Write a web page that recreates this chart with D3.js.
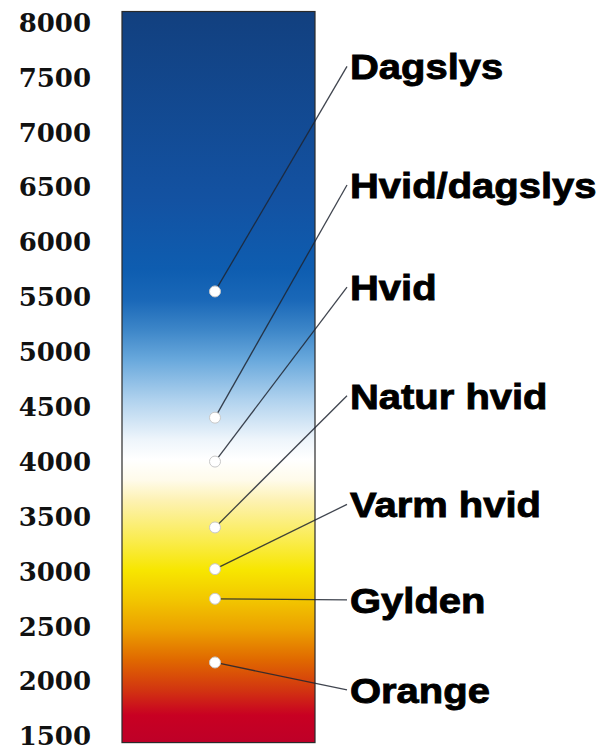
<!DOCTYPE html>
<html>
  <head>
    <meta charset="utf-8">
    <title>Farvetemperatur</title>
    <style type="text/css">
     html, body {
       margin: 0;
       background: #fff;
     }
     .axis text {
       font: bold 26px "DejaVu Serif", serif;
       fill: #111;
     }
     .labels text {
       font: bold 36px "Liberation Sans", Arial, sans-serif;
       fill: #000;
       stroke: #000;
       stroke-width: 0.9px;
     }
     .leaders line {
       stroke: #1e2430;
       stroke-width: 1.3px;
       stroke-opacity: 0.85;
     }
     .dots circle {
       fill: #fff;
       stroke: #c8c8c8;
       stroke-width: 1px;
     }
    </style>
  </head>
  <body>
    <svg width="600" height="750"></svg>
    <script src="https://cdn.jsdelivr.net/npm/d3@7"></script>
    <script>
     // tick labels (Kelvin)
     var ticks = [1500, 2000, 2500, 3000, 3500, 4000, 4500, 5000, 5500, 6000, 6500, 7000, 7500, 8000];

     // light types, their temperature and where the label sits (also in Kelvin)
     var names = ["Dagslys", "Hvid/dagslys", "Hvid", "Natur hvid", "Varm hvid", "Gylden", "Orange"];
     var kelvin = [5550, 4400, 4000, 3400, 3020, 2750, 2170];
     var labelAt = [7600, 6520, 5590, 4600, 3610, 2740, 1920];

     // colour of the bar at a given temperature
     var stopK = [8100, 6380, 5750, 5470, 5200, 4930, 4560, 4200, 4020, 3830, 3650, 3290, 3010, 2740, 2470, 2190, 1920, 1690, 1440];
     var stopColor = ["#12407f", "#1352a2", "#0e5db0", "#1a68b8", "#3d86c8", "#68a8dc", "#b0d2ee", "#eef5fb", "#ffffff", "#fffbea",
                      "#fdf2b4", "#faec50", "#f7e600", "#f2c600", "#eca000", "#e06800", "#d23510", "#c80022", "#be0028"];

     var svg = d3.select("svg");

     var y = d3.scaleLinear()
               .domain([1500, 8000])
               .range([736, 22.5]);

     var barX = 122, barW = 193, dotX = 215, lineEnd = 347, textX = 350;
     var barTop = y(d3.max(stopK)), barBottom = y(d3.min(stopK));

     var grad = svg.append("defs")
                   .append("linearGradient")
                   .attr("id", "temp")
                   .attr("gradientUnits", "userSpaceOnUse")
                   .attr("x1", 0).attr("x2", 0)
                   .attr("y1", barTop).attr("y2", barBottom);

     grad.selectAll("stop")
         .data(stopK)
         .enter().append("stop")
         .attr("offset", (d) => (y(d) - barTop) / (barBottom - barTop))
         .attr("stop-color", (d, i) => stopColor[i]);

     svg.append("rect")
        .attr("x", barX)
        .attr("y", barTop)
        .attr("width", barW)
        .attr("height", barBottom - barTop)
        .attr("fill", "url(#temp)")
        .attr("stroke", "#2a2a2a")
        .attr("stroke-width", 1.2);

     var axis = svg.append("g")
                   .attr("class", "axis")
                   .attr("transform", "translate(91,0)")
                   .call(d3.axisLeft(y)
                           .tickValues(ticks)
                           .tickSize(0)
                           .tickPadding(0)
                           .tickFormat(d3.format("d")));
     axis.select(".domain").remove();
     axis.selectAll("text")
         .attr("font-family", null)
         .attr("font-size", null)
         .attr("fill", null)
         .attr("dy", "0.34em");

     svg.append("g")
        .attr("class", "leaders")
        .selectAll("line")
        .data(names)
        .enter().append("line")
        .attr("x1", dotX)
        .attr("y1", (d, i) => y(kelvin[i]))
        .attr("x2", lineEnd)
        .attr("y2", (d, i) => y(labelAt[i]));

     svg.append("g")
        .attr("class", "dots")
        .selectAll("circle")
        .data(kelvin)
        .enter().append("circle")
        .attr("cx", dotX)
        .attr("cy", (d) => y(d))
        .attr("r", 5.5);

     svg.append("g")
        .attr("class", "labels")
        .selectAll("text")
        .data(names)
        .enter().append("text")
        .attr("transform", (d, i) => `translate(${textX},${y(labelAt[i]) + 12.9}) scale(1.11,1)`)
        .text((d) => d);
    </script>
  </body>
</html>
